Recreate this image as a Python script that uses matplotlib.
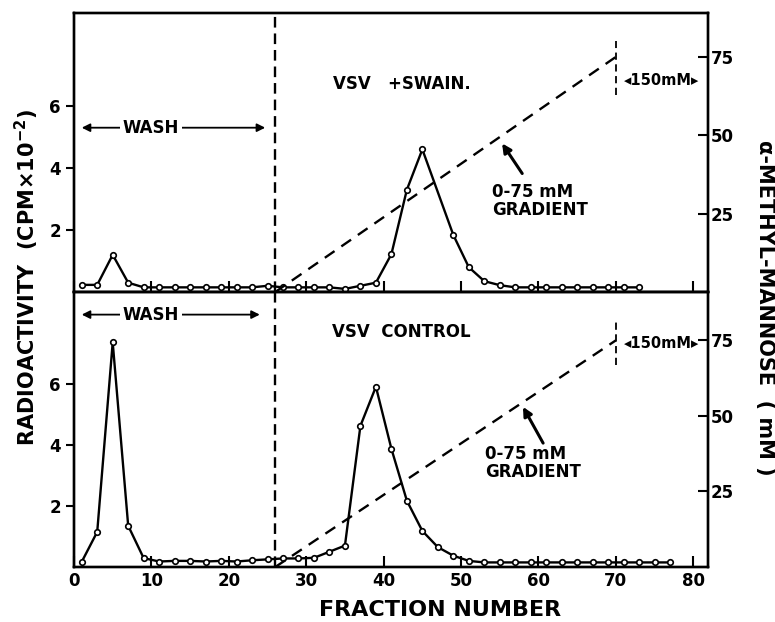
import matplotlib
matplotlib.use("Agg")
import matplotlib.pyplot as plt

plt.rcParams['font.family'] = ['DejaVu Sans']
plt.rcParams['font.weight'] = 'bold'

# VSV + swainsonine (upper panel)
frac_swain = [1, 3, 5, 7, 9, 11, 13, 15, 17, 19, 21, 23, 25, 27, 29, 31, 33, 35,
              37, 39, 41, 43, 45, 49, 51, 53, 55, 57, 59, 61, 63, 65, 67, 69, 71, 73]
cpm_swain = [0.23, 0.23, 1.2, 0.3, 0.15, 0.15, 0.15, 0.15, 0.15, 0.15, 0.15, 0.15,
             0.2, 0.15, 0.15, 0.15, 0.15, 0.1, 0.2, 0.3, 1.22, 3.3, 4.6, 1.84,
             0.8, 0.35, 0.22, 0.15, 0.15, 0.15, 0.15, 0.15, 0.15, 0.15, 0.15, 0.15]

# VSV control (lower panel)
frac_ctrl = list(range(1, 78, 2))
cpm_ctrl = [0.17, 1.15, 7.35, 1.35, 0.29, 0.18, 0.2, 0.2, 0.18, 0.2, 0.18, 0.22,
            0.25, 0.28, 0.28, 0.3, 0.5, 0.7, 4.62, 5.9, 3.87, 2.17, 1.18, 0.65,
            0.37, 0.2, 0.15, 0.15, 0.15, 0.15, 0.15, 0.15, 0.15, 0.15, 0.15, 0.15,
            0.15, 0.15, 0.15]

# gradient of methyl-mannose (mM)
grad_frac = [26, 70]
grad_mM = [0, 75]
wash_end = 26

fig = plt.figure(figsize=(7.75, 6.22), dpi=100)
L, R = 74 / 775, 708 / 775
ax1 = fig.add_axes([L, 1 - 292 / 622, R - L, 279 / 622])
ax2 = fig.add_axes([L, 1 - 567 / 622, R - L, 275 / 622])

panels = [
    (ax1, frac_swain, cpm_swain, 89, "VSV   +SWAIN.", 6.7, 5.3, 24.7,
     (29, 54), ((55.3, 47.4), (57.9, 37.8)), 67.5, (63, 80)),
    (ax2, frac_ctrl, cpm_ctrl, 91, "VSV  CONTROL", 7.7, 8.26, 24.0,
     (34.5, 53.1), ((58, 53), (60.6, 41)), 74, (67, 82)),
]

for ax, fx, fy, mmtop, title, ty, wy, wx2, gtxt, garr, t150, vseg in panels:
    ax.plot(fx, fy, color='black', lw=1.7, marker='o', ms=4, mfc='white',
            mec='black', mew=1.2, zorder=3)
    ax.set_xlim(0, 81.9)
    ax.set_ylim(0, 9)
    ax.set_yticks([2, 4, 6])
    ax.set_xticks(range(0, 81, 10))
    ax.tick_params(axis='y', direction='out', length=6, width=1.5, labelsize=12)
    ax.tick_params(axis='x', direction='in', length=8, width=1.5, labelsize=12)
    for s in ax.spines.values():
        s.set_linewidth(1.7)
    ax.axvline(wash_end, color='black', lw=1.7, dashes=(4.5, 2.5))

    ax.text(42.3, ty, title, ha='center', va='center', fontsize=12, fontweight='bold')
    ax.annotate("", xy=(1, wy), xytext=(wx2, wy),
                arrowprops=dict(arrowstyle='<|-|>', color='black', lw=1.3,
                                mutation_scale=12, shrinkA=0, shrinkB=0))
    ax.text(9.9, wy, "WASH", ha='center', va='center', fontsize=12,
            fontweight='bold', bbox=dict(fc='white', ec='none', pad=2))

    axr = ax.twinx()
    axr.set_ylim(0, mmtop)
    axr.set_yticks([25, 50, 75])
    axr.tick_params(axis='y', direction='in', length=7, width=1.5, labelsize=12, pad=2)
    axr.plot(grad_frac, grad_mM, color='black', lw=1.7, dashes=(5, 3.5))
    axr.plot([70, 70], vseg, color='black', lw=1.3, dashes=(4, 2.5))
    axr.text(75.9, t150, "◂150mM▸", ha='center', va='center', fontsize=10.5,
             fontweight='bold')
    axr.text(gtxt[1], gtxt[0], "0-75 mM\nGRADIENT", ha='left', va='center',
             fontsize=12, fontweight='bold', linespacing=1.0)
    axr.annotate("", xy=garr[0], xytext=garr[1],
                 arrowprops=dict(arrowstyle='-|>', color='black', lw=2.2,
                                 mutation_scale=13, shrinkA=0, shrinkB=0))
    for s in axr.spines.values():
        s.set_linewidth(1.7)

ax1.tick_params(axis='x', labelbottom=False)

fig.text(440 / 775, 1 - 610 / 622, "FRACTION NUMBER", ha='center', va='center',
         fontsize=16, fontweight='bold')
fig.text(27 / 775, 1 - 278 / 622, "RADIOACTIVITY  (CPM×10$^{-2}$)", rotation=90,
         ha='center', va='center', fontsize=15, fontweight='bold')
fig.text(765 / 775, 1 - 308 / 622, "α-METHYL-MANNOSE  ( mM )", rotation=270,
         ha='center', va='center', fontsize=15, fontweight='bold')

fig.savefig("out.png", dpi=100)
